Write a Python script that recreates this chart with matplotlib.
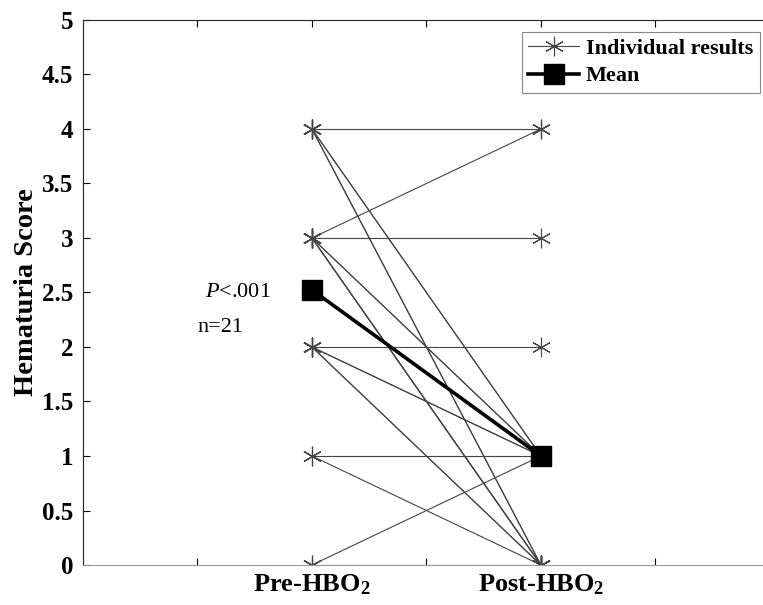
import matplotlib.pyplot as plt
import numpy as np

# pre / post hematuria score for each patient (n=21)
pre_scores = [4, 4, 4, 3, 3, 3, 3, 2, 2, 2, 1, 1, 0, 0,
              4, 4, 3, 3, 3, 2, 2]
post_scores = [4, 0, 1, 4, 3, 0, 1, 2, 1, 0, 1, 0, 1, 0,
               0, 1, 0, 0, 1, 0, 1]
x_pos = [1, 2]
x_labels = ['Pre-HBO$_\\mathbf{2}$', 'Post-HBO$_\\mathbf{2}$']

plt.rcParams['font.family'] = ['Liberation Serif', 'DejaVu Serif']
plt.rcParams['mathtext.fontset'] = 'custom'
plt.rcParams['mathtext.rm'] = 'Liberation Serif'
plt.rcParams['mathtext.bf'] = 'Liberation Serif:bold'
plt.rcParams['mathtext.it'] = 'Liberation Serif:italic'

fig = plt.figure(figsize=(7.63, 6.05), dpi=100)
ax = fig.add_axes([0.1088, 0.0661, 0.9002, 0.9009])

asterisk = (6, 2, 0)
for i in range(len(pre_scores)):
    ax.plot(x_pos, [pre_scores[i], post_scores[i]], color='#444444', lw=0.8,
            marker=asterisk, markersize=14, markeredgewidth=0.8,
            label='Individual results' if i == 0 else None)

mean_vals = [np.mean(pre_scores), np.mean(post_scores)]
ax.plot(x_pos, mean_vals, color='black', lw=2.6, marker='s', markersize=15,
        label='Mean', zorder=5)

ax.text(0.533, 2.5, '$\\it{P}$<.001', fontsize=16, ha='left', va='center')
ax.text(0.502, 2.18, 'n=21', fontsize=16, ha='left', va='center')

ax.set_xlim(0, 3)
ax.set_ylim(0, 5)
ax.set_xticks([0.5, 1, 1.5, 2, 2.5])
ax.set_xticklabels(['', x_labels[0], '', x_labels[1], ''])
ax.set_yticks(np.arange(0, 5.01, 0.5))
ax.set_yticklabels(['0', '0.5', '1', '1.5', '2', '2.5', '3', '3.5', '4', '4.5', '5'])
ax.tick_params(direction='in', length=5, width=0.8, top=True, right=True,
               labelsize=18, pad=7)
ax.tick_params(axis='x', labelsize=19, pad=5)
for lab in ax.get_xticklabels() + ax.get_yticklabels():
    lab.set_fontweight('bold')
for side in ['left', 'top', 'right']:
    ax.spines[side].set_color('#222222')
ax.spines['bottom'].set_color('#999999')
ax.set_ylabel('Hematuria Score', fontsize=20.5, fontweight='bold', labelpad=2)

leg = ax.legend(loc='upper right', bbox_to_anchor=(760 / 763, 1 - 32 / 605),
                bbox_transform=fig.transFigure, fancybox=False, framealpha=1,
                edgecolor='#888888', handlelength=2.3,
                borderpad=0.3, labelspacing=0.3, handletextpad=0.3,
                borderaxespad=0, prop={'weight': 'bold', 'size': 16})
leg.get_frame().set_linewidth(0.8)

fig.savefig('out.png', dpi=100)
